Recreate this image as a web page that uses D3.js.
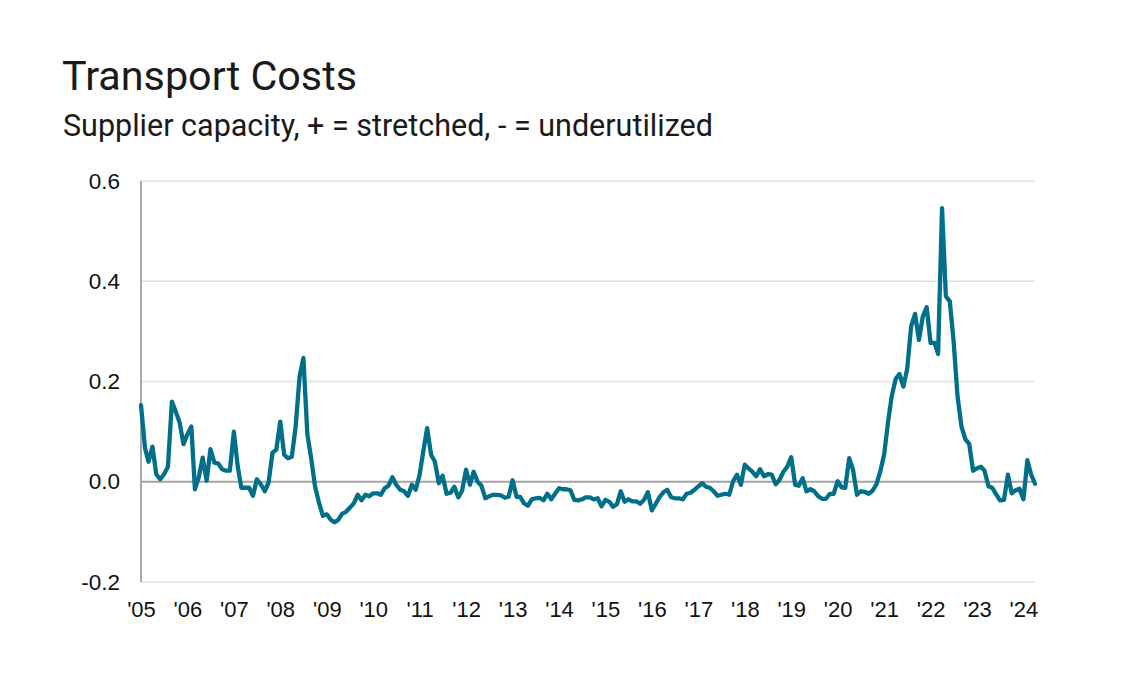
<!DOCTYPE html>
<html>
<head>
<meta charset="utf-8">
<script src="https://cdn.jsdelivr.net/npm/d3@7/dist/d3.min.js"></script>
<style>
  html, body { margin: 0; padding: 0; background: #fff; }
  svg { display: block; }
</style>
</head>
<body>
<svg id="chart" width="1125" height="682"></svg>
<script>
// ---- Data (monthly, Jan 2005 – Apr 2024) ----
const startYear = 2005;
const startMonth = 0;
const values2005 = [0.153, 0.068, 0.04, 0.07, 0.015, 0.005, 0.015, 0.03, 0.16, 0.14, 0.118, 0.075];
const values2006 = [0.095, 0.11, -0.015, 0.01, 0.048, 0.002, 0.065, 0.038, 0.036, 0.025, 0.022, 0.022];
const values2007 = [0.1, 0.03, -0.012, -0.012, -0.012, -0.028, 0.005, -0.005, -0.019, -0.002, 0.058, 0.064];
const values2008 = [0.12, 0.054, 0.047, 0.05, 0.11, 0.21, 0.247, 0.095, 0.045, -0.01, -0.042, -0.068];
const values2009 = [-0.065, -0.076, -0.081, -0.076, -0.064, -0.06, -0.052, -0.043, -0.026, -0.037, -0.026, -0.029];
const values2010 = [-0.023, -0.023, -0.026, -0.013, -0.008, 0.009, -0.006, -0.016, -0.019, -0.028, -0.006, -0.016];
const values2011 = [0.014, 0.064, 0.107, 0.054, 0.04, -0.003, 0.012, -0.024, -0.022, -0.01, -0.031, -0.018];
const values2012 = [0.024, -0.006, 0.02, 0.0, -0.008, -0.033, -0.029, -0.026, -0.026, -0.027, -0.032, -0.03];
const values2013 = [0.003, -0.03, -0.03, -0.043, -0.048, -0.035, -0.033, -0.032, -0.037, -0.024, -0.035, -0.024];
const values2014 = [-0.013, -0.015, -0.015, -0.017, -0.036, -0.037, -0.035, -0.031, -0.031, -0.035, -0.033, -0.049];
const values2015 = [-0.036, -0.04, -0.05, -0.045, -0.019, -0.04, -0.035, -0.039, -0.039, -0.044, -0.036, -0.021];
const values2016 = [-0.057, -0.044, -0.031, -0.021, -0.016, -0.031, -0.033, -0.033, -0.035, -0.024, -0.022, -0.016];
const values2017 = [-0.009, -0.003, -0.01, -0.012, -0.019, -0.028, -0.026, -0.024, -0.026, 0.001, 0.014, -0.006];
const values2018 = [0.034, 0.026, 0.02, 0.011, 0.025, 0.011, 0.015, 0.014, -0.005, 0.004, 0.02, 0.03];
const values2019 = [0.049, -0.006, -0.008, 0.007, -0.019, -0.015, -0.019, -0.029, -0.034, -0.034, -0.024, -0.024];
const values2020 = [0.001, -0.011, -0.012, 0.047, 0.024, -0.026, -0.019, -0.02, -0.024, -0.018, -0.005, 0.02];
const values2021 = [0.055, 0.12, 0.17, 0.205, 0.215, 0.19, 0.225, 0.31, 0.335, 0.283, 0.33, 0.348];
const values2022 = [0.277, 0.277, 0.255, 0.546, 0.37, 0.36, 0.28, 0.17, 0.11, 0.085, 0.075, 0.022];
const values2023 = [0.027, 0.03, 0.022, -0.009, -0.012, -0.025, -0.037, -0.036, 0.014, -0.023, -0.017, -0.014];
const values2024 = [-0.035, 0.043, 0.015, -0.004];

const yTicks = [-0.2, 0.0, 0.2, 0.4, 0.6];
const yTickLabels = ["-0.2", "0.0", "0.2", "0.4", "0.6"];
const xTickYears = d3.range(2005, 2025);
const xTickLabels = xTickYears.map(yr => "'" + String(yr).slice(2));

const titleText = "Transport Costs";
const subtitleText = "Supplier capacity, + = stretched, - = underutilized";

const allValues = [].concat(values2005, values2006, values2007, values2008, values2009,
  values2010, values2011, values2012, values2013, values2014, values2015, values2016,
  values2017, values2018, values2019, values2020, values2021, values2022, values2023, values2024);
const data = allValues.map((v, i) => ({ date: new Date(startYear, startMonth + i, 1), value: v }));

// ---- Layout ----
const svg = d3.select("#chart");
const plotL = 141, plotR = 1035, plotT = 181, plotB = 582;

const x = d3.scaleTime()
  .domain([new Date(2005, 0, 1), new Date(2024, 3, 1)])
  .range([plotL, plotR]);
const y = d3.scaleLinear().domain([-0.2, 0.6]).range([plotB, plotT]);

// Title & subtitle
svg.append("text").attr("x", 62).attr("y", 90)
  .attr("font-family", "Roboto, 'Liberation Sans', sans-serif")
  .attr("font-size", 41.3).attr("fill", "#1a1a1a").text(titleText);
svg.append("text").attr("x", 63).attr("y", 136)
  .attr("font-family", "Roboto, 'Liberation Sans', sans-serif")
  .attr("font-size", 30.5).attr("fill", "#1a1a1a").text(subtitleText);

// Gridlines
svg.append("g").selectAll("line").data(yTicks.filter(d => d !== 0)).join("line")
  .attr("x1", plotL).attr("x2", plotR)
  .attr("y1", d => y(d)).attr("y2", d => y(d))
  .attr("stroke", "#e2e2e2").attr("stroke-width", 1.3);

// Y axis
const yAxis = d3.axisLeft(y).tickValues(yTicks).tickSize(0).tickPadding(21)
  .tickFormat((d, i) => yTickLabels[i]);
const gy = svg.append("g").attr("transform", `translate(${plotL},0)`).call(yAxis);
gy.select(".domain").remove();
gy.selectAll("text").attr("font-family", "'Liberation Sans', Arial, sans-serif")
  .attr("font-size", 22.5).attr("fill", "#111");

svg.append("line").attr("x1", plotL).attr("x2", plotL).attr("y1", plotT).attr("y2", plotB)
  .attr("stroke", "#a9a9a9").attr("stroke-width", 2);

// Zero line
svg.append("line").attr("x1", plotL).attr("x2", plotR).attr("y1", y(0)).attr("y2", y(0))
  .attr("stroke", "#a3a3a3").attr("stroke-width", 2);

// X axis
const xAxis = d3.axisBottom(x)
  .tickValues(xTickYears.map(yr => new Date(yr, 0, 1)))
  .tickSize(0).tickPadding(19)
  .tickFormat((d, i) => xTickLabels[i]);
const gx = svg.append("g").attr("transform", `translate(0,${plotB})`).call(xAxis);
gx.select(".domain").remove();
gx.selectAll("text").attr("font-family", "'Liberation Sans', Arial, sans-serif")
  .attr("font-size", 22).attr("fill", "#111");

// Line
const line = d3.line().x(d => x(d.date)).y(d => y(d.value));
svg.append("path").datum(data)
  .attr("fill", "none").attr("stroke", "#006f8a").attr("stroke-width", 4.3)
  .attr("stroke-linejoin", "round").attr("stroke-linecap", "round")
  .attr("d", line);
</script>
</body>
</html>
